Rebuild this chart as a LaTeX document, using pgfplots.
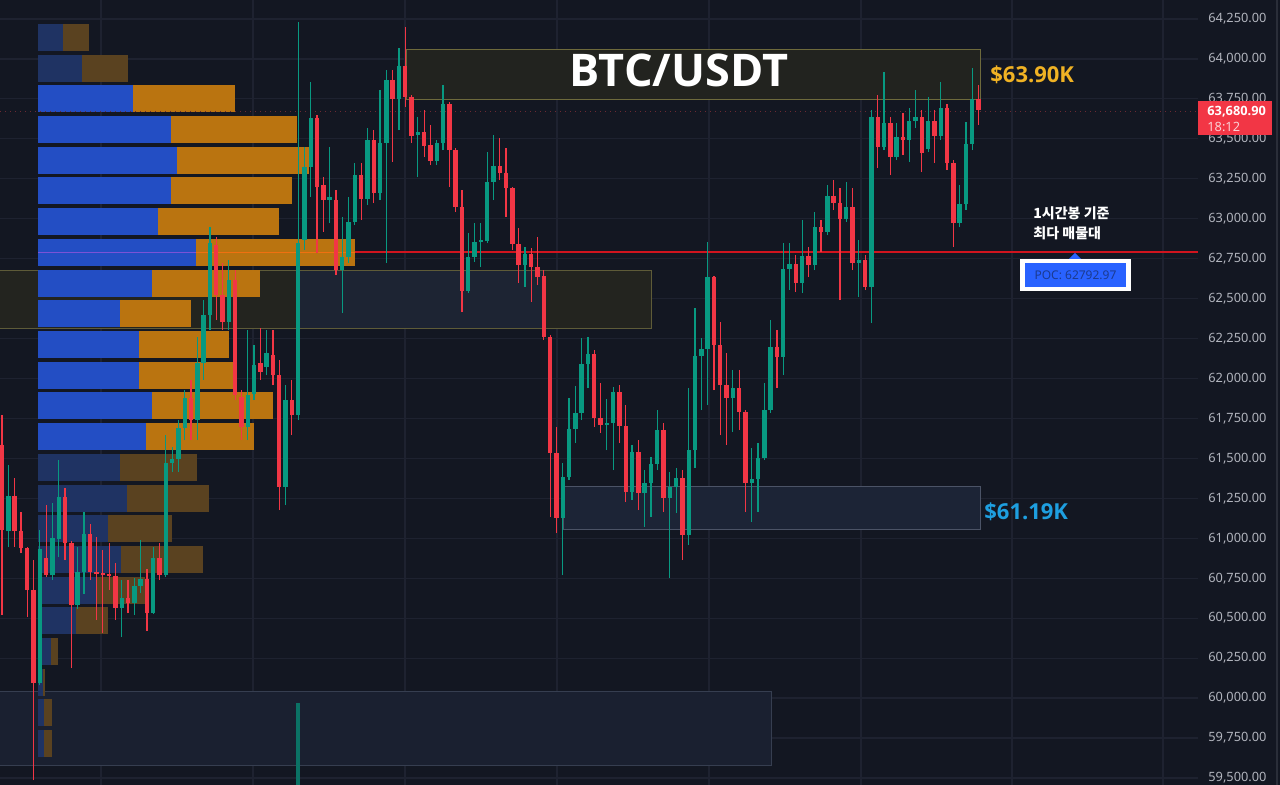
\documentclass[border=0pt]{standalone}
\usepackage{pgfplots}
\pgfplotsset{compat=1.18}
\usepackage{pgfplotstable}
\usepackage{fontspec}
\setmainfont{Noto Sans}
\newfontfamily\osans{Open Sans}
\newfontfamily\cjk{Noto Sans CJK KR}
\definecolor{bg}{HTML}{131722}
\definecolor{gridc}{HTML}{1E2230}
\definecolor{up}{HTML}{089981}
\definecolor{dn}{HTML}{F23645}
\definecolor{vblue}{HTML}{234EC4}
\definecolor{vorange}{HTML}{BA7410}
\definecolor{dblue}{HTML}{1F3363}
\definecolor{dorange}{HTML}{5A4220}
\definecolor{lbl}{HTML}{B2B5BE}
\definecolor{pocred}{HTML}{D0141E}
\definecolor{boxAf}{HTML}{22231F}
\definecolor{boxAd}{HTML}{6E6A3C}
\definecolor{boxBf}{HTML}{23241F}
\definecolor{boxBd}{HTML}{5E5B38}
\definecolor{boxBb}{HTML}{1D2433}
\definecolor{boxCf}{HTML}{1C2436}
\definecolor{boxCd}{HTML}{4B5366}
\definecolor{boxDf}{HTML}{1A2030}
\definecolor{boxDd}{HTML}{363E50}
\definecolor{pocpurple}{HTML}{7B52D6}
\definecolor{pocorange}{HTML}{F07010}
\definecolor{curline}{HTML}{6A2A33}
\definecolor{gold}{HTML}{F0B224}
\definecolor{cyanb}{HTML}{1E9FE0}
\definecolor{pocblue}{HTML}{2962FF}
\definecolor{poctext}{HTML}{1B3A8F}
\definecolor{pinkt}{HTML}{FAD0D4}
\definecolor{border}{HTML}{2A2E39}
\colorlet{tealdim}{up!70!bg}

\pgfplotstableread{
x o h l c
2.0 61584 61771 60520 61052
8.3 61045 61459 60945 61265
14.6 61265 61377 60945 61045
20.9 61045 61164 60907 60939
27.2 60939 60945 60507 60676
33.5 60676 60864 59487 60094
39.8 60094 61052 60080 60933
46.1 60876 61208 60760 60770
52.4 60770 61221 60739 61002
58.7 60995 61490 60882 61258
65.0 61258 61315 60864 60970
71.3 60970 60985 60188 60582
77.6 60582 60945 60560 60789
83.9 60789 61164 60650 61027
90.2 61027 61090 60740 60789
96.5 60789 61010 60490 60776
102.8 60782 60926 60407 60770
109.1 60776 60970 60676 60764
115.4 60764 60845 60490 60564
121.7 60564 60739 60382 60626
128.0 60626 60739 60532 60595
134.3 60595 60751 60520 60701
140.6 60701 60990 60660 60745
146.9 60745 60810 60420 60532
153.2 60532 60945 60525 60876
159.5 60876 60970 60739 60770
165.8 60770 61646 60757 61471
172.1 61471 61571 61415 61496
178.4 61496 61740 61415 61690
184.7 61690 61928 61615 61878
191.0 61878 61991 61615 61740
197.3 61740 62259 61615 62097
203.6 62097 62491 61991 62397
209.9 62397 62948 62304 62848
216.2 62836 62886 62366 62523
222.5 62523 62723 62304 62354
228.8 62354 62742 62304 62616
235.1 62616 62679 61865 61897
241.4 61884 61928 61615 61696
247.7 61696 62304 61615 61897
254.0 61903 62210 61865 62084
260.3 62097 62316 61991 62041
266.6 62072 62304 62022 62160
272.9 62147 62304 61959 62022
279.2 62022 62116 61177 61321
285.5 61321 61959 61208 61865
291.8 61865 61991 61646 61771
298.1 61771 64231 61740 62848
304.4 62867 63449 62804 63324
310.7 63324 63856 63136 63630
317.0 63630 63649 62785 63198
323.3 63211 63261 62917 63117
329.6 63117 63449 62973 63136
335.9 63117 63180 62648 62679
342.2 62679 63011 62410 62760
348.5 62760 63136 62723 62980
354.8 62980 63349 62960 63274
361.1 63274 63349 62992 63123
367.4 63123 63568 63086 63493
373.7 63493 63555 63098 63161
380.0 63161 63806 63117 63474
386.3 63474 63931 62723 63868
392.6 63868 63931 63355 63749
398.9 63749 64068 63555 63956
405.2 63956 64200 63699 63762
411.5 63762 63775 63474 63518
417.8 63524 63637 63261 63543
424.1 63543 63680 63386 63455
430.4 63461 63587 63336 63361
436.7 63361 63493 63336 63474
443.0 63474 63837 63430 63718
449.3 63718 63730 63198 63430
455.6 63430 63440 63042 63073
461.9 63073 63180 62416 62548
468.2 62548 62911 62535 62760
474.5 62760 62973 62730 62854
480.8 62854 62973 62698 62867
487.1 62861 63418 62848 63230
493.4 63230 63524 63117 63330
499.7 63330 63505 63242 63286
506.0 63286 63443 63011 63192
512.3 63192 63200 62804 62842
518.6 62842 62942 62598 62710
524.9 62710 62823 62573 62779
531.2 62779 62817 62479 62698
537.5 62698 62886 62585 62635
543.8 62641 62679 62241 62259
550.1 62259 62272 61133 61534
556.4 61534 61696 61033 61127
562.7 61127 61471 60770 61383
569.0 61383 61878 61365 61684
575.3 61684 61953 61596 61784
581.6 61784 62253 61740 62091
587.9 62091 62259 61940 62153
594.2 62153 62178 61696 61753
600.5 61753 61972 61659 61709
606.8 61709 61872 61552 61721
613.1 61721 61947 61427 61915
619.4 61915 61959 61596 61703
625.7 61703 61834 61227 61290
632.0 61290 61584 61240 61540
638.3 61540 61615 61177 61283
644.6 61283 61427 61071 61346
650.9 61346 61509 61133 61465
657.2 61465 61803 61427 61678
663.5 61678 61721 61164 61252
669.8 61252 61415 60751 61321
676.1 61321 61440 61158 61377
682.4 61377 61427 60864 61020
688.7 61020 61940 60958 61552
695.0 61552 62441 61440 62141
701.3 62141 62253 61803 62184
707.6 62184 62854 61834 62635
713.9 62635 62641 61928 62210
720.2 62210 62354 61646 61959
726.5 61959 62160 61584 61878
732.8 61878 62053 61665 61940
739.1 61940 62053 61678 61790
745.4 61790 61803 61164 61346
751.7 61346 61565 61102 61371
758.0 61371 61596 61164 61502
764.3 61502 61972 61490 61803
770.6 61803 62366 61784 62197
776.9 62197 62304 61940 62135
783.2 62135 62848 62022 62685
789.5 62685 62848 62554 62717
795.8 62717 62773 62541 62598
802.1 62598 62992 62535 62767
808.4 62767 62823 62635 62710
814.7 62710 63042 62679 62948
821.0 62948 62992 62792 62917
827.3 62917 63211 62898 63142
833.6 63142 63242 63055 63098
839.9 63098 63192 62491 62998
846.2 62998 63230 62980 63073
852.5 63073 63192 62679 62723
858.8 62723 62867 62510 62742
865.1 62742 62773 62554 62573
871.4 62573 63680 62347 63637
877.7 63637 63774 63317 63449
884.0 63449 63918 63430 63599
890.3 63599 63637 63274 63386
896.6 63386 63599 63367 63511
902.9 63511 63662 63399 63493
909.2 63493 63693 63355 63612
915.5 63612 63806 63568 63637
921.8 63637 63680 63292 63411
928.1 63436 63762 63418 63612
934.4 63612 63680 63349 63518
940.7 63518 63856 63493 63693
947.0 63693 63718 63305 63349
953.3 63349 63367 62823 62973
959.6 62973 63211 62948 63092
965.9 63092 63605 63055 63468
972.2 63468 63943 63430 63749
978.5 63749 63837 63587 63681
}\candles

\pgfplotstableread{
y be oe
63750 133 235
63558 171 297
63366 177 309
63174 171 292
62981 158 279
62789 196 355
62597 152 260
62405 120 191
62213 139 229
62021 139 233
61828 152 273
61636 146 254
}\profbright

\pgfplotstableread{
y be oe
64134 63 89
63942 82 128
61444 120 197
61252 127 209
61060 108 172
60868 121 203
60676 96 145
60483 76 108
60291 51 58
60099 43 45
59907 44 52
59715 44 52
}\profdim

\begin{document}
\begin{tikzpicture}
\useasboundingbox (0,0) rectangle (640pt,392.5pt);
\fill[bg] (0,0) rectangle (640pt,392.5pt);
\begin{axis}[at={(0,0)}, anchor=south west,
  width=599pt, height=392.5pt, scale only axis,
  xmin=0, xmax=1198, ymin=59456, ymax=64369,
  axis line style={draw=none}, tick style={draw=none},
  xtick={101,253,405,557,709,861,1012,1163}, xticklabels={},
  ytick={59500,59750,...,64250},
  scaled y ticks=false,
  grid=major, major grid style={draw=gridc, line width=0.6pt},
  yticklabel pos=right,
  yticklabel style={anchor=west, inner sep=0pt, xshift=5pt, font=\fontsize{6.4}{7}\selectfont, text=lbl},
  yticklabel={\pgfmathprintnumber[assume math mode=true, fixed, fixed zerofill, precision=2, 1000 sep={,}]{\tick}},
]
% zones
\fill[fill=boxAf, draw=boxAd, line width=0.5pt] (406,64062) rectangle (980,63749);
\fill[fill=boxBf, draw=boxBd, line width=0.5pt] (-2,62673) rectangle (651,62310);
\fill[fill=boxBb] (296,62670) rectangle (545,62313);
\fill[fill=boxCf, draw=boxCd, line width=0.5pt] (563,61327) rectangle (980,61052);
\fill[fill=boxDf, draw=boxDd, line width=0.5pt] (-2,60044) rectangle (771,59581);
% volume profile
\addplot[draw=none, error bars/.cd, x dir=plus, x explicit, error mark=none,
  error bar style={draw=dblue, line width=13.5pt}]
  table[x expr=38, y=y, x error expr=\thisrow{be}-38] {\profdim};
\addplot[draw=none, error bars/.cd, x dir=plus, x explicit, error mark=none,
  error bar style={draw=dorange, line width=13.5pt}]
  table[x=be, y=y, x error expr=\thisrow{oe}-\thisrow{be}] {\profdim};
\addplot[draw=none, error bars/.cd, x dir=plus, x explicit, error mark=none,
  error bar style={draw=vblue, line width=13.5pt}]
  table[x expr=38, y=y, x error expr=\thisrow{be}-38] {\profbright};
\addplot[draw=none, error bars/.cd, x dir=plus, x explicit, error mark=none,
  error bar style={draw=vorange, line width=13.5pt}]
  table[x=be, y=y, x error expr=\thisrow{oe}-\thisrow{be}] {\profbright};
\addplot[draw=pocpurple, line width=0.7pt] coordinates {(38,62789) (196,62789)};
\addplot[draw=pocorange, line width=0.7pt] coordinates {(196,62789) (355,62789)};
% POC line and current price line
\addplot[draw=pocred, line width=1pt] coordinates {(355,62789) (1198,62789)};
\addplot[draw=curline, dotted, line width=0.5pt] coordinates {(0,63674) (1198,63674)};
% candles: wicks
\addplot[draw=none, error bars/.cd, y dir=plus, y explicit, error mark=none,
  error bar style={draw=up, line width=0.6pt}]
  table[x=x, y=l, y error expr={(\thisrow{c}>=\thisrow{o})*(\thisrow{h}-\thisrow{l})}] {\candles};
\addplot[draw=none, error bars/.cd, y dir=plus, y explicit, error mark=none,
  error bar style={draw=dn, line width=0.6pt}]
  table[x=x, y=l, y error expr={(\thisrow{c}<\thisrow{o})*(\thisrow{h}-\thisrow{l})}] {\candles};
% candles: bodies
\addplot[draw=none, error bars/.cd, y dir=plus, y explicit, error mark=none,
  error bar style={draw=up, line width=2.2pt}]
  table[x=x, y=o, y error expr={(\thisrow{c}>=\thisrow{o})*max(\thisrow{c}-\thisrow{o},8)}] {\candles};
\addplot[draw=none, error bars/.cd, y dir=plus, y explicit, error mark=none,
  error bar style={draw=dn, line width=2.2pt}]
  table[x=x, y=c, y error expr={(\thisrow{c}<\thisrow{o})*max(\thisrow{o}-\thisrow{c},8)}] {\candles};
% teal bar at the bottom
\addplot[draw=none, error bars/.cd, y dir=plus, y explicit, error mark=none,
  error bar style={draw=tealdim, line width=2.2pt}]
  coordinates {(298.1,59400) +- (0,569)};
\end{axis}
\begin{scope}[yshift=392.5pt, x=0.5pt, y=-0.5pt]
\node[text=white, font=\osans\fontsize{22.5}{26}\selectfont\bfseries, inner sep=0pt] at (679,70) {BTC/USDT};
\node[text=gold, font=\osans\fontsize{11}{13}\selectfont\bfseries, anchor=west, inner sep=0pt] at (990,75) {\$63.90K};
\node[text=cyanb, font=\osans\fontsize{11}{13}\selectfont\bfseries, anchor=west, inner sep=0pt] at (984,512) {\$61.19K};
\node[text=white, font=\cjk\fontsize{7}{8}\selectfont\bfseries, anchor=west, inner sep=0pt] at (1033,213) {1시간봉 기준};
\node[text=white, font=\cjk\fontsize{7}{8}\selectfont\bfseries, anchor=west, inner sep=0pt] at (1033,233) {최다 매물대};
\fill[white] (1020,259) rectangle (1131,291);
\fill[pocblue] (1025,263) rectangle (1126,287);
\fill[pocblue] (1069,259) -- (1081,259) -- (1075,253) -- cycle;
\node[text=poctext, font=\fontsize{6}{7}\selectfont, inner sep=0pt] at (1075.5,275) {POC: 62792.97};
\fill[dn] (1198,101) rectangle (1272,135);
\node[text=white, font=\osans\fontsize{6.4}{7}\selectfont\bfseries, anchor=west, inner sep=0pt] at (1207,112) {63,680.90};
\node[text=pinkt, font=\fontsize{6.4}{7}\selectfont, anchor=west, inner sep=0pt] at (1207,127) {18:12};
\draw[border, line width=1pt] (1277,0) -- (1277,785);
\end{scope}
\end{tikzpicture}
\end{document}
